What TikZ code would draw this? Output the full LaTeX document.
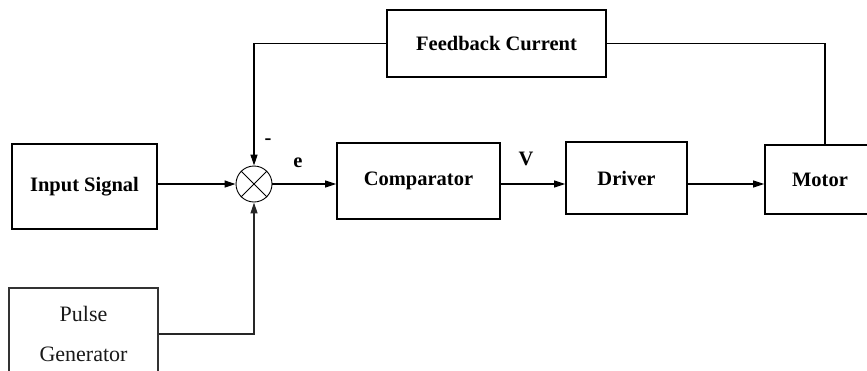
\documentclass[tikz,border=0pt]{standalone}
\usepackage{fontspec}
\setmainfont{Liberation Serif}
\usetikzlibrary{arrows.meta}
\begin{document}
\begin{tikzpicture}[x=1pt,y=-1pt,
  every node/.style={font=\fontsize{20.5}{28}\selectfont\bfseries},
  blk/.style={draw,line width=1.6pt,inner sep=0pt,align=center},
  conn/.style={line width=1.1pt},
  arr/.style={conn,-{Triangle[length=11pt,width=7pt]}},
  lbl/.style={inner sep=0pt}]
  % page frame
  \clip (0,0) rectangle (867,370);
  \fill[white] (0,0) rectangle (867,370);

  % blocks
  \node[blk,minimum width=145pt,minimum height=85pt] (input) at (84.5,186.5) {Input Signal};
  \node[blk,minimum width=163pt,minimum height=76pt] (comp) at (418.5,181) {Comparator};
  \node[blk,minimum width=121pt,minimum height=72pt] (driver) at (626.5,178) {Driver};
  \node[blk,minimum width=110pt,minimum height=69pt] (motor) at (820,179.5) {Motor};
  \node[blk,minimum width=219pt,minimum height=67pt] (fb) at (496.5,43.5) {Feedback Current};
  \node[blk,draw=black!80,text=black!90,font=\fontsize{22}{28}\selectfont,
        minimum width=149pt,minimum height=92pt] (pulse) at (83.5,334)
    {Pulse\\[12pt]Generator};

  % summing junction
  \node[draw,circle,line width=0.9pt,minimum size=36pt,inner sep=0pt] (sum) at (254,184) {};
  \draw[line width=0.9pt] (sum.north west) -- (sum.south east)
                          (sum.north east) -- (sum.south west);

  % forward path
  \draw[arr] (input.east |- sum.west) -- (sum.west);
  \draw[arr] (sum.east) -- (comp.west |- sum.east);
  \draw[arr] (comp.east |- sum.east) -- (driver.west |- sum.east);
  \draw[arr] (driver.east |- sum.east) -- (motor.west |- sum.east);

  % feedback and pulse inputs
  \coordinate (mtop) at ([xshift=5pt]motor.north);
  \draw[conn] (fb.east) -| (mtop);
  \draw[arr] (fb.west) -| (sum.north);
  \draw[arr,draw=black!85] (pulse.east) -| (sum.south);

  % signal labels
  \node[lbl] (minus) at (268,142) {-};
  \node[lbl] (elbl) at (298,163) {e};
  \node[lbl] (vlbl) at (526,159) {V};
\end{tikzpicture}
\end{document}
